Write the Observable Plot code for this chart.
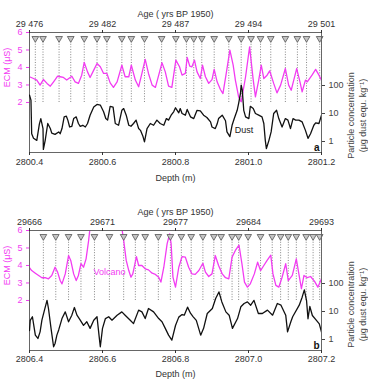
<!DOCTYPE html>
<html>
<head>
<meta charset="utf-8">
<script src="https://cdn.jsdelivr.net/npm/d3@7"></script>
<script src="https://cdn.jsdelivr.net/npm/@observablehq/plot@0.6"></script>
<style>
  body { margin: 0; background: #fff; font-family: "Liberation Sans", Arial, sans-serif; }
  .panel { position: relative; width: 368px; height: 190px; }
  .panel svg { position: absolute; left: 0; top: 0; }
</style>
</head>
<body>
<div id="chart"></div>
<script>
// Depth ticks (m) and the matching layer-counted ages (yrs BP 1950)
const depthTicksA = [2800.4, 2800.6, 2800.8, 2801.0, 2801.2];
const ageLabelsA = ["29 476", "29 482", "29 487", "29 494", "29 501"];
const depthTicksB = [2806.4, 2806.6, 2806.8, 2807.0, 2807.2];
const ageLabelsB = ["29666", "29671", "29677", "29684", "29693"];

// Annual layer markers (depth, m)
const layersA = [2800.416, 2800.437, 2800.481, 2800.513, 2800.550, 2800.585, 2800.612, 2800.653,
  2800.679, 2800.715, 2800.762, 2800.801, 2800.830, 2800.850, 2800.872, 2800.906, 2800.946,
  2800.980, 2801.007, 2801.033, 2801.061, 2801.101, 2801.134, 2801.159, 2801.195];
const layersB = [2806.438, 2806.472, 2806.507, 2806.541, 2806.578, 2806.619, 2806.658, 2806.690,
  2806.717, 2806.753, 2806.786, 2806.816, 2806.843, 2806.875, 2806.905, 2806.925, 2806.955,
  2806.973, 2806.999, 2807.033, 2807.065, 2807.088, 2807.109, 2807.131, 2807.158, 2807.177, 2807.195];

// ECM (µS) against depth (m)
const ecmA = [[2800.400,3.47],[2800.411,3.37],[2800.420,3.28],[2800.429,2.99],[2800.438,3.31],[2800.448,3.09],
  [2800.457,2.93],[2800.466,3.18],[2800.477,3.50],[2800.484,3.47],[2800.493,3.43],[2800.502,3.28],[2800.516,3.50],
  [2800.525,3.18],[2800.534,3.09],[2800.543,3.56],[2800.550,4.29],[2800.559,3.75],[2800.566,3.43],[2800.576,3.85],
  [2800.585,4.23],[2800.594,4.04],[2800.603,3.66],[2800.612,3.66],[2800.621,3.12],[2800.630,2.86],[2800.640,3.18],
  [2800.653,4.13],[2800.662,3.47],[2800.672,3.47],[2800.679,4.13],[2800.690,3.28],[2800.699,2.90],[2800.708,3.66],
  [2800.717,4.46],[2800.726,3.66],[2800.736,2.99],[2800.745,2.86],[2800.754,3.56],[2800.763,4.27],[2800.772,3.75],
  [2800.781,2.93],[2800.790,2.86],[2800.801,4.42],[2800.811,4.04],[2800.818,3.56],[2800.827,3.66],[2800.832,4.57],
  [2800.839,4.08],[2800.845,4.04],[2800.852,4.42],[2800.859,3.75],[2800.868,3.37],[2800.874,4.13],[2800.882,3.47],
  [2800.891,3.09],[2800.900,3.31],[2800.906,3.89],[2800.914,3.18],[2800.923,2.74],[2800.930,2.51],[2800.939,3.66],
  [2800.949,4.99],[2800.958,4.13],[2800.964,3.28],[2800.973,2.32],[2800.980,2.04],[2800.992,3.47],[2801.003,5.18],
  [2801.013,3.28],[2801.019,2.32],[2801.028,3.28],[2801.035,4.13],[2801.042,3.37],[2801.051,3.56],[2801.058,3.81],
  [2801.069,3.09],[2801.078,2.55],[2801.088,2.99],[2801.101,3.94],[2801.110,2.99],[2801.117,2.70],[2801.124,3.28],
  [2801.132,3.94],[2801.141,3.18],[2801.147,2.61],[2801.156,3.28],[2801.161,3.18],[2801.174,3.56],[2801.184,3.89],
  [2801.193,3.56],[2801.200,3.28]];

const ecmB = [[2806.400,3.87],[2806.406,3.71],[2806.416,3.56],[2806.425,3.43],[2806.434,3.30],[2806.443,3.30],
  [2806.452,3.24],[2806.461,3.43],[2806.470,3.90],[2806.477,3.62],[2806.484,3.14],[2806.489,2.95],[2806.498,3.52],
  [2806.507,4.57],[2806.513,4.29],[2806.521,3.52],[2806.528,3.14],[2806.534,3.43],[2806.541,4.10],[2806.548,3.90],
  [2806.555,4.38],[2806.562,5.43],[2806.565,6.00],[2806.568,7.50],[2806.651,7.50],[2806.654,6.00],[2806.658,5.43],
  [2806.665,4.29],[2806.672,3.71],[2806.678,3.33],[2806.683,3.52],[2806.693,4.51],[2806.699,4.00],[2806.708,4.00],
  [2806.717,3.81],[2806.726,3.75],[2806.736,3.56],[2806.745,3.49],[2806.754,3.33],[2806.760,3.05],[2806.768,3.90],
  [2806.777,5.24],[2806.784,5.81],[2806.788,5.24],[2806.793,3.33],[2806.800,2.76],[2806.809,3.90],[2806.818,4.51],
  [2806.827,4.48],[2806.836,3.90],[2806.845,3.52],[2806.854,3.49],[2806.864,3.71],[2806.875,4.13],[2806.882,3.62],
  [2806.891,3.37],[2806.900,3.52],[2806.909,4.57],[2806.918,4.00],[2806.928,3.52],[2806.937,3.30],[2806.946,3.24],
  [2806.955,4.48],[2806.964,4.86],[2806.974,5.16],[2806.982,4.10],[2806.989,3.05],[2806.997,2.76],[2807.005,2.95],
  [2807.016,3.52],[2807.025,4.19],[2807.033,3.71],[2807.042,4.00],[2807.051,4.29],[2807.061,4.59],[2807.067,3.52],
  [2807.075,2.86],[2807.083,2.76],[2807.092,3.33],[2807.102,4.10],[2807.109,3.14],[2807.120,3.43],[2807.131,4.38],
  [2807.138,3.52],[2807.145,2.67],[2807.152,3.43],[2807.161,3.30],[2807.170,3.37],[2807.181,3.09],[2807.190,2.76],
  [2807.200,3.24]];

// Particle concentration (µg dust equ. kg⁻¹) against depth (m)
const dustA = [[2800.400,45],[2800.404,30],[2800.406,1.9],[2800.411,1.3],[2800.420,1.1],[2800.427,4.2],
  [2800.431,6.6],[2800.437,2.9],[2800.438,0.52],[2800.443,1.1],[2800.450,4.4],[2800.457,2.9],[2800.461,2.0],
  [2800.470,1.8],[2800.480,2.2],[2800.484,1.9],[2800.489,2.9],[2800.495,7.6],[2800.501,8.0],[2800.505,5.8],
  [2800.510,3.3],[2800.516,3.5],[2800.521,6.6],[2800.528,7.6],[2800.534,4.4],[2800.539,3.5],[2800.546,3.8],
  [2800.553,3.3],[2800.559,4.4],[2800.566,8.7],[2800.576,17],[2800.585,21],[2800.594,20],[2800.603,11.5],
  [2800.609,6.6],[2800.614,5.8],[2800.621,18],[2800.629,17],[2800.635,4.4],[2800.644,3.8],[2800.653,13],
  [2800.658,15],[2800.665,8.7],[2800.672,3.8],[2800.678,3.5],[2800.685,4.4],[2800.692,5.8],[2800.699,2.9],
  [2800.704,2.5],[2800.711,1.5],[2800.715,0.97],[2800.722,2.9],[2800.731,4.4],[2800.740,3.8],[2800.749,5.8],
  [2800.758,4.4],[2800.768,3.8],[2800.775,6.6],[2800.781,5.8],[2800.788,8.7],[2800.795,11.5],[2800.800,16],
  [2800.809,10.6],[2800.813,15],[2800.818,10],[2800.827,8.7],[2800.832,14],[2800.841,7.6],[2800.850,6.6],
  [2800.859,13],[2800.868,12.5],[2800.877,8.7],[2800.886,7.2],[2800.896,5.0],[2800.900,3.3],[2800.909,2.9],
  [2800.914,4.2],[2800.918,6.6],[2800.928,8.7],[2800.937,5.5],[2800.941,2.2],[2800.949,1.5],[2800.955,3.8],
  [2800.961,6.6],[2800.969,13],[2800.973,23],[2800.978,52],[2800.980,103],[2800.983,68],[2800.987,13],
  [2800.992,7.6],[2801.001,6.6],[2801.005,18],[2801.013,15],[2801.019,10],[2801.028,8.7],[2801.037,7.6],
  [2801.042,4.4],[2801.046,1.1],[2801.049,0.56],[2801.056,1.1],[2801.062,2.2],[2801.069,10],[2801.077,13],
  [2801.083,6.6],[2801.092,3.3],[2801.101,6.6],[2801.108,5.8],[2801.115,2.9],[2801.122,6.6],[2801.129,5.8],
  [2801.138,5.8],[2801.147,5.0],[2801.156,2.5],[2801.163,1.3],[2801.170,1.9],[2801.179,3.8],[2801.184,4.6],
  [2801.193,4.4],[2801.200,8.7]];

const dustB = [[2806.400,2.1],[2806.402,4.8],[2806.408,6.5],[2806.416,1.43],[2806.423,1.09],[2806.429,1.88],
  [2806.434,4.9],[2806.441,11.2],[2806.448,25],[2806.452,12.8],[2806.459,2.5],[2806.466,0.55],[2806.470,0.72],
  [2806.475,1.43],[2806.480,2.2],[2806.489,5.6],[2806.498,9.7],[2806.507,4.3],[2806.516,7.4],[2806.523,13.9],
  [2806.530,7.4],[2806.539,4.9],[2806.548,3.2],[2806.557,4.3],[2806.566,2.5],[2806.576,4.9],[2806.585,6.5],
  [2806.591,1.21],[2806.594,0.55],[2806.600,2.5],[2806.608,5.6],[2806.617,6.5],[2806.626,4.9],[2806.640,7.4],
  [2806.653,9.7],[2806.662,7.4],[2806.676,4.9],[2806.685,3.7],[2806.699,11.2],[2806.708,9.7],[2806.717,5.6],
  [2806.726,12.8],[2806.740,9.7],[2806.754,5.6],[2806.763,4.3],[2806.772,2.5],[2806.781,1.43],[2806.790,0.95],
  [2806.800,3.16],[2806.809,6.3],[2806.818,7.8],[2806.824,7.4],[2806.833,14.3],[2806.841,8.7],[2806.848,6.6],
  [2806.857,4.8],[2806.869,1.43],[2806.877,2.5],[2806.887,8.5],[2806.901,12.8],[2806.910,29],[2806.919,50],
  [2806.927,22],[2806.938,9.7],[2806.947,7.4],[2806.956,2.5],[2806.970,5.6],[2806.979,14.7],[2806.988,19.3],
  [2806.997,22],[2807.006,16.8],[2807.015,25],[2807.027,8.5],[2807.038,8.5],[2807.052,11.2],[2807.066,7.4],
  [2807.079,19.3],[2807.089,16.8],[2807.102,7.4],[2807.107,1.88],[2807.116,4.3],[2807.121,6.5],[2807.139,16.8],
  [2807.147,32.5],[2807.153,59],[2807.159,24.7],[2807.163,5.5],[2807.168,15.1],[2807.175,7.2],[2807.185,5.0],
  [2807.194,3.6],[2807.200,1.83]];

const MAGENTA = "#f23cf2";
const FONT = "'Liberation Sans', Arial, sans-serif";
const ECM_TITLE = "ECM (μS)";
const DUST_TITLE = "Particle concentration\n(μg dust equ. kg⁻¹)";

function panel({ticks, ages, layers, ecm, dust, letter, top, bottomOffset, labelOffsetBottom, dustTitleDy, note}) {
  const plotH = 120;
  const box = {width: 368, height: 190, marginLeft: 29, marginRight: 47, marginTop: top, marginBottom: 190 - top - plotH};
  const style = {fontFamily: FONT, fontSize: "9px", background: "transparent", overflow: "visible", color: "#333"};
  const xDomain = [ticks[0], ticks[ticks.length - 1]];
  const ageOf = new Map(ticks.map((t, i) => [t, ages[i]]));

  // ECM layer: frame, age/depth axes, layer markers, ECM trace
  const ecmPlot = Plot.plot({
    ...box, style,
    x: {domain: xDomain},
    y: {domain: [-0.86, 6]},
    marks: [
      Plot.ruleX(layers, {y1: 2, y2: 5.5, stroke: "#777", strokeWidth: 0.9, strokeDasharray: "1,1.6"}),
      Plot.line(ecm, {x: d => d[0], y: d => d[1], stroke: MAGENTA, strokeWidth: 1.3, clip: true}),
      Plot.dot(layers, {x: d => d, y: 5.66, symbol: "triangle", rotate: 180, r: 2.5, fill: "#c4c4c4", stroke: "#555", strokeWidth: 0.8}),
      Plot.frame({stroke: "#666", strokeWidth: 1}),
      Plot.axisX({anchor: "bottom", ticks, tickFormat: d => d.toFixed(1), tickSize: 3, tickPadding: bottomOffset,
        label: "Depth (m)", labelAnchor: "center", labelArrow: "none", labelOffset: labelOffsetBottom, color: "#333"}),
      Plot.axisX({anchor: "top", ticks, tickFormat: d => ageOf.get(d), tickSize: 3, tickPadding: 3,
        label: "Age ( yrs BP 1950)", labelAnchor: "center", labelArrow: "none", labelOffset: 22, color: "#333"}),
      Plot.axisY({anchor: "left", ticks: [2, 3, 4, 5, 6], tickFormat: d => String(d), tickSize: 3, tickPadding: 4,
        label: null, color: MAGENTA}),
      // left-hand title, centred on the ECM = 4 µS level
      Plot.text([ECM_TITLE], {x: xDomain[0], y: 4, rotate: -90, dx: -22, fill: MAGENTA, fontSize: 9}),
      note && note.on === "ecm" ? Plot.text([note], {x: "x", y: "y", text: "text", fill: note.color, fontSize: 9}) : null
    ]
  });

  // Dust layer: log particle concentration on the right-hand axis
  const dustPlot = Plot.plot({
    ...box, style,
    x: {domain: xDomain, axis: null},
    y: {type: "log", domain: [0.405, 7810]},
    marks: [
      Plot.line(dust, {x: d => d[0], y: d => d[1], stroke: "#111", strokeWidth: 1.3, clip: true}),
      Plot.axisY({anchor: "right", ticks: [1, 10, 100], tickFormat: d => String(d), tickSize: 3, tickPadding: 4,
        label: null, color: "#444"}),
      Plot.text([DUST_TITLE], {frameAnchor: "right", rotate: -90, dx: 35, dy: dustTitleDy, textAnchor: "middle",
        lineAnchor: "middle", lineHeight: 1.25, fill: "#444", fontSize: 9}),
      note && note.on === "dust" ? Plot.text([note], {x: "x", y: "y", text: "text", fill: note.color, fontSize: 9}) : null,
      Plot.text([letter], {frameAnchor: "bottom-right", dx: -2, dy: -2, textAnchor: "end", lineAnchor: "bottom", fontWeight: "bold", fontSize: 10, fill: "#111"})
    ]
  });

  const div = document.createElement("div");
  div.className = "panel";
  div.append(ecmPlot, dustPlot);
  return div;
}

const chart = document.getElementById("chart");
chart.append(
  panel({ticks: depthTicksA, ages: ageLabelsA, layers: layersA, ecm: ecmA, dust: dustA, letter: "a",
    top: 32, bottomOffset: 3, labelOffsetBottom: 28, dustTitleDy: 23,
    note: {on: "dust", x: 2800.988, y: 2.5, text: "Dust", color: "#222"}}),
  panel({ticks: depthTicksB, ages: ageLabelsB, layers: layersB, ecm: ecmB, dust: dustB, letter: "b",
    top: 40, bottomOffset: 2, labelOffsetBottom: 26, dustTitleDy: 14,
    note: {on: "ecm", x: 2806.619, y: 3.62, text: "Volcano", color: MAGENTA}})
);
</script>
</body>
</html>
